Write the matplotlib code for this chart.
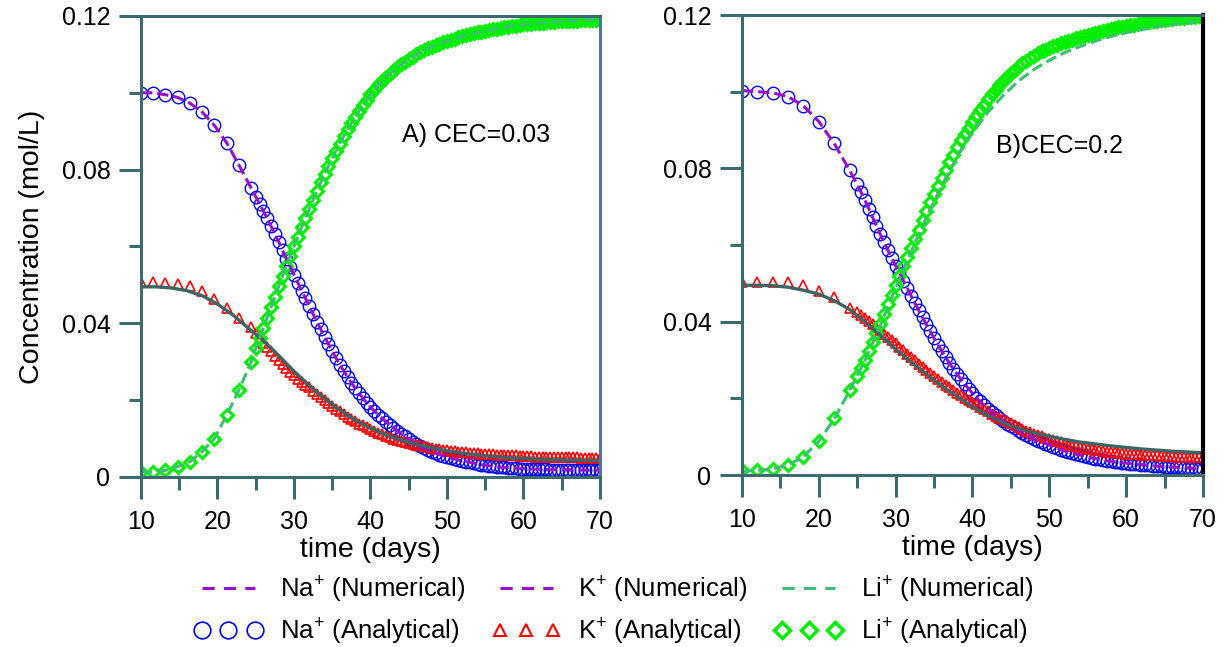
import matplotlib
matplotlib.use("Agg")
import matplotlib.pyplot as plt
import numpy as np
from matplotlib.lines import Line2D
from matplotlib.ticker import MultipleLocator, FixedFormatter, FixedLocator

plt.rcParams["font.family"] = ["Liberation Sans", "DejaVu Sans"]
plt.rcParams["mathtext.fontset"] = "custom"
plt.rcParams["mathtext.rm"] = "Liberation Sans"
plt.rcParams["mathtext.default"] = "regular"

# ---- data (time in days, concentration in mol/L) ----
# analytical points: sparse at early times, then every half day from day 25
t_sparse_a = [10, 11.6, 13.2, 14.8, 16.4, 18.0, 19.6, 21.2, 22.8, 24.4]
t_sparse_b = [10, 12, 14, 16, 18, 20, 22, 24]
t_dense = list(np.arange(25, 70.01, 0.5))

# panel A, CEC = 0.03
na_ana_a = [0.1000, 0.1000, 0.0995, 0.0988, 0.0973, 0.0950, 0.0915, 0.0870, 0.0812, 0.0752,
            0.0730, 0.0711, 0.0692, 0.0673, 0.0653, 0.0633, 0.0612, 0.0590, 0.0568, 0.0547,
            0.0526, 0.0506, 0.0485, 0.0465, 0.0444, 0.0424, 0.0404, 0.0384, 0.0365, 0.0346,
            0.0327, 0.0309, 0.0292, 0.0276, 0.0260, 0.0245, 0.0231, 0.0218, 0.0205, 0.0193,
            0.0182, 0.0172, 0.0162, 0.0153, 0.0144, 0.0136, 0.0128, 0.0120, 0.0113, 0.0106,
            0.0099, 0.0092, 0.0086, 0.0080, 0.0075, 0.0070, 0.0066, 0.0062, 0.0058, 0.0055,
            0.0052, 0.0049, 0.0047, 0.0044, 0.0042, 0.0040, 0.0038, 0.0036, 0.0034, 0.0032,
            0.0031, 0.0029, 0.0028, 0.0027, 0.0026, 0.0025, 0.0024, 0.0023, 0.0023, 0.0022,
            0.0022, 0.0021, 0.0021, 0.0020, 0.0020, 0.0020, 0.0020, 0.0019, 0.0019, 0.0019,
            0.0019, 0.0019, 0.0019, 0.0018, 0.0018, 0.0018, 0.0018, 0.0018, 0.0018, 0.0018,
            0.0018]
k_ana_a = [0.0507, 0.0507, 0.0506, 0.0503, 0.0498, 0.0484, 0.0462, 0.0440, 0.0415, 0.0390,
           0.0375, 0.0362, 0.0350, 0.0338, 0.0327, 0.0316, 0.0305, 0.0294, 0.0284, 0.0274,
           0.0265, 0.0256, 0.0248, 0.0240, 0.0233, 0.0225, 0.0217, 0.0209, 0.0201, 0.0193,
           0.0186, 0.0178, 0.0171, 0.0164, 0.0157, 0.0151, 0.0145, 0.0139, 0.0134, 0.0129,
           0.0124, 0.0119, 0.0115, 0.0111, 0.0107, 0.0103, 0.0100, 0.0097, 0.0094, 0.0091,
           0.0088, 0.0086, 0.0084, 0.0082, 0.0080, 0.0078, 0.0076, 0.0074, 0.0072, 0.0070,
           0.0069, 0.0068, 0.0067, 0.0066, 0.0065, 0.0064, 0.0063, 0.0062, 0.0062, 0.0061,
           0.0060, 0.0059, 0.0059, 0.0058, 0.0058, 0.0057, 0.0057, 0.0056, 0.0056, 0.0055,
           0.0055, 0.0054, 0.0054, 0.0053, 0.0053, 0.0053, 0.0053, 0.0052, 0.0052, 0.0052,
           0.0052, 0.0051, 0.0051, 0.0051, 0.0051, 0.0050, 0.0050, 0.0050, 0.0050, 0.0050,
           0.0050]
li_ana_a = [0.0013, 0.0013, 0.0017, 0.0027, 0.0040, 0.0066, 0.0100, 0.0161, 0.0226, 0.0300,
            0.0335, 0.0361, 0.0388, 0.0415, 0.0442, 0.0469, 0.0496, 0.0523, 0.0550, 0.0575,
            0.0600, 0.0625, 0.0650, 0.0674, 0.0698, 0.0722, 0.0745, 0.0767, 0.0789, 0.0810,
            0.0830, 0.0849, 0.0868, 0.0887, 0.0905, 0.0921, 0.0937, 0.0953, 0.0968, 0.0982,
            0.0996, 0.1008, 0.1020, 0.1030, 0.1040, 0.1049, 0.1058, 0.1066, 0.1074, 0.1081,
            0.1088, 0.1094, 0.1100, 0.1106, 0.1111, 0.1116, 0.1120, 0.1124, 0.1128, 0.1132,
            0.1135, 0.1138, 0.1141, 0.1144, 0.1147, 0.1150, 0.1152, 0.1155, 0.1157, 0.1159,
            0.1161, 0.1163, 0.1165, 0.1167, 0.1169, 0.1171, 0.1172, 0.1174, 0.1175, 0.1177,
            0.1178, 0.1179, 0.1180, 0.1181, 0.1182, 0.1183, 0.1184, 0.1185, 0.1185, 0.1186,
            0.1186, 0.1187, 0.1187, 0.1188, 0.1188, 0.1189, 0.1189, 0.1190, 0.1190, 0.1190,
            0.1190]

# panel B, CEC = 0.2
na_ana_b = [0.1003, 0.1000, 0.0997, 0.0987, 0.0963, 0.0922, 0.0865, 0.0795,
            0.0758, 0.0738, 0.0717, 0.0695, 0.0672, 0.0650, 0.0628, 0.0607, 0.0586, 0.0566,
            0.0546, 0.0527, 0.0507, 0.0488, 0.0468, 0.0449, 0.0430, 0.0411, 0.0393, 0.0375,
            0.0357, 0.0340, 0.0323, 0.0307, 0.0292, 0.0277, 0.0263, 0.0250, 0.0237, 0.0225,
            0.0213, 0.0202, 0.0192, 0.0182, 0.0173, 0.0164, 0.0156, 0.0148, 0.0141, 0.0134,
            0.0128, 0.0122, 0.0116, 0.0110, 0.0105, 0.0100, 0.0095, 0.0090, 0.0086, 0.0082,
            0.0078, 0.0074, 0.0070, 0.0066, 0.0063, 0.0060, 0.0057, 0.0054, 0.0052, 0.0049,
            0.0047, 0.0045, 0.0043, 0.0041, 0.0039, 0.0037, 0.0036, 0.0034, 0.0033, 0.0032,
            0.0031, 0.0030, 0.0029, 0.0028, 0.0027, 0.0026, 0.0025, 0.0024, 0.0023, 0.0023,
            0.0022, 0.0021, 0.0021, 0.0020, 0.0020, 0.0019, 0.0019, 0.0018, 0.0018, 0.0017,
            0.0017]
k_ana_b = [0.0504, 0.0504, 0.0504, 0.0503, 0.0496, 0.0481, 0.0465, 0.0437,
           0.0425, 0.0418, 0.0410, 0.0403, 0.0395, 0.0387, 0.0378, 0.0369, 0.0360, 0.0352,
           0.0344, 0.0335, 0.0326, 0.0317, 0.0308, 0.0299, 0.0290, 0.0282, 0.0274, 0.0266,
           0.0258, 0.0250, 0.0243, 0.0236, 0.0229, 0.0222, 0.0215, 0.0208, 0.0202, 0.0196,
           0.0190, 0.0184, 0.0178, 0.0172, 0.0166, 0.0160, 0.0155, 0.0150, 0.0145, 0.0140,
           0.0135, 0.0130, 0.0125, 0.0120, 0.0116, 0.0112, 0.0108, 0.0104, 0.0101, 0.0097,
           0.0094, 0.0091, 0.0088, 0.0085, 0.0082, 0.0079, 0.0077, 0.0075, 0.0073, 0.0071,
           0.0069, 0.0067, 0.0066, 0.0064, 0.0063, 0.0061, 0.0060, 0.0059, 0.0058, 0.0057,
           0.0056, 0.0055, 0.0055, 0.0054, 0.0053, 0.0052, 0.0052, 0.0051, 0.0051, 0.0050,
           0.0050, 0.0049, 0.0049, 0.0048, 0.0048, 0.0047, 0.0047, 0.0047, 0.0047, 0.0046,
           0.0046]
li_ana_b = [0.0013, 0.0013, 0.0017, 0.0026, 0.0048, 0.0090, 0.0148, 0.0222,
            0.0258, 0.0279, 0.0300, 0.0323, 0.0346, 0.0370, 0.0395, 0.0420, 0.0445, 0.0470,
            0.0495, 0.0520, 0.0545, 0.0569, 0.0593, 0.0617, 0.0640, 0.0664, 0.0689, 0.0711,
            0.0733, 0.0754, 0.0775, 0.0796, 0.0816, 0.0836, 0.0855, 0.0873, 0.0890, 0.0906,
            0.0922, 0.0937, 0.0952, 0.0966, 0.0980, 0.0993, 0.1005, 0.1017, 0.1028, 0.1038,
            0.1048, 0.1057, 0.1066, 0.1074, 0.1081, 0.1088, 0.1094, 0.1100, 0.1105, 0.1110,
            0.1114, 0.1118, 0.1122, 0.1126, 0.1129, 0.1133, 0.1136, 0.1139, 0.1142, 0.1145,
            0.1148, 0.1151, 0.1153, 0.1156, 0.1158, 0.1161, 0.1163, 0.1166, 0.1168, 0.1170,
            0.1172, 0.1174, 0.1175, 0.1177, 0.1179, 0.1181, 0.1182, 0.1184, 0.1185, 0.1187,
            0.1188, 0.1189, 0.1190, 0.1191, 0.1192, 0.1193, 0.1194, 0.1195, 0.1196, 0.1197,
            0.1197]

# numerical curves every 2 days (Na and Li in panel A lie on the analytical points)
t_num = list(range(10, 71, 2))
k_num_a = [0.0495, 0.0495, 0.0492, 0.0485, 0.0472, 0.0450, 0.0422, 0.0388, 0.0355, 0.0316,
           0.0275, 0.0238, 0.0204, 0.0174, 0.0148, 0.0127, 0.0110, 0.0096, 0.0085, 0.0076,
           0.0068, 0.0062, 0.0057, 0.0053, 0.0050, 0.0048, 0.0046, 0.0045, 0.0044, 0.0043,
           0.0042]
k_num_b = [0.0495, 0.0495, 0.0494, 0.0490, 0.0482, 0.0472, 0.0455, 0.0432, 0.0400, 0.0365,
           0.0328, 0.0295, 0.0263, 0.0232, 0.0205, 0.0178, 0.0155, 0.0136, 0.0121, 0.0110,
           0.0101, 0.0093, 0.0086, 0.0081, 0.0076, 0.0072, 0.0068, 0.0065, 0.0062, 0.0060,
           0.0058]
li_num_b = [0.0010, 0.0012, 0.0016, 0.0026, 0.0048, 0.0088, 0.0146, 0.0220, 0.0298, 0.0390,
            0.0488, 0.0582, 0.0672, 0.0755, 0.0830, 0.0893, 0.0946, 0.0990, 0.1028, 0.1058,
            0.1082, 0.1102, 0.1118, 0.1132, 0.1144, 0.1154, 0.1162, 0.1169, 0.1175, 0.1179,
            0.1183]

labels_num = ["Na$^{+}$ (Numerical)", "K$^{+}$ (Numerical)", "Li$^{+}$ (Numerical)"]
labels_ana = ["Na$^{+}$ (Analytical)", "K$^{+}$ (Analytical)", "Li$^{+}$ (Analytical)"]
panel_text = ["A) CEC=0.03", "B)CEC=0.2"]

# ---- styles ----
axis_col = "#3b6b6e"
na_col, k_col, li_col = "#0000ff", "#ff0000", "#00ee00"
purple, k_line, li_line = "#9a10c8", "#3f6465", "#3cc070"

fig = plt.figure(figsize=(12.27, 6.47), dpi=100)
ax_a = fig.add_axes([0.1149, 0.2628, 0.3741, 0.7125])
ax_b = fig.add_axes([0.6047, 0.2658, 0.3757, 0.7110])


def draw_panel(ax, t_sp, na, k, li, k_num, li_t, li_num, text, tx, ty):
    t = t_sp + t_dense
    ax.plot(t, na, ls="none", marker="o", ms=9, mfc="none", mec=na_col, mew=1.0)
    ax.plot(t, k, ls="none", marker="^", ms=7.5, mfc="none", mec=k_col, mew=1.2)
    ax.plot(t, li, ls="none", marker="D", ms=6.5, mfc="none", mec=li_col, mew=2.2)
    ax.plot(t, na, ls="--", color=purple, lw=2.2)
    ax.plot(t_num, k_num, ls="-", color=k_line, lw=2.4)
    ax.plot(li_t, li_num, ls="--", color=li_line, lw=2.2)
    ax.text(tx, ty, text, fontsize=18, va="center", ha="left")

    ax.set_xlim(10, 70)
    ax.set_ylim(0, 0.12)
    ax.xaxis.set_major_locator(MultipleLocator(10))
    ax.xaxis.set_minor_locator(MultipleLocator(5))
    ax.yaxis.set_major_locator(FixedLocator([0, 0.04, 0.08, 0.12]))
    ax.yaxis.set_major_formatter(FixedFormatter(["0", "0.04", "0.08", "0.12"]))
    ax.yaxis.set_minor_locator(MultipleLocator(0.02))
    ax.tick_params(which="major", length=16, width=2.2, color=axis_col,
                   labelsize=18, direction="out")
    ax.tick_params(axis="x", which="major", pad=8)
    ax.tick_params(axis="y", which="major", pad=6)
    ax.tick_params(which="minor", length=9, width=2.2, color=axis_col, direction="out")
    for s in ["left", "bottom", "top"]:
        ax.spines[s].set_color(axis_col)
        ax.spines[s].set_linewidth(2.2)
    ax.set_xlabel("time (days)", fontsize=20.5, labelpad=2)


draw_panel(ax_a, t_sparse_a, na_ana_a, k_ana_a, li_ana_a, k_num_a,
           t_sparse_a + t_dense, li_ana_a, panel_text[0], 44.1, 0.089)
draw_panel(ax_b, t_sparse_b, na_ana_b, k_ana_b, li_ana_b, k_num_b,
           t_num, li_num_b, panel_text[1], 43.0, 0.0857)

ax_a.spines["right"].set_color("#4f76a3")
ax_a.spines["right"].set_linewidth(2.2)
ax_b.spines["right"].set_color("black")
ax_b.spines["right"].set_linewidth(3)
ax_a.set_ylabel("Concentration (mol/L)", fontsize=20.5, labelpad=12)

# ---- legend below the panels ----
handles = [
    Line2D([], [], ls="--", color=purple, lw=2.2, dashes=(4, 3)),
    Line2D([], [], ls="none", marker="o", ms=12, mfc="none", mec=na_col, mew=1.2),
    Line2D([], [], ls="--", color=purple, lw=2.2, dashes=(4, 3)),
    Line2D([], [], ls="none", marker="^", ms=9, mfc="none", mec=k_col, mew=1.5),
    Line2D([], [], ls="--", color=li_line, lw=2.2, dashes=(4, 3)),
    Line2D([], [], ls="none", marker="D", ms=8, mfc="none", mec=li_col, mew=2.5),
]
labels = [labels_num[0], labels_ana[0], labels_num[1], labels_ana[1],
          labels_num[2], labels_ana[2]]
fig.legend(handles, labels, ncol=3, loc="center", bbox_to_anchor=(0.5, 0.056),
           frameon=False, numpoints=3, fontsize=18.5, handlelength=2.65,
           handletextpad=0.7, columnspacing=1.05, labelspacing=0.45)

fig.savefig("out.png", dpi=100)
